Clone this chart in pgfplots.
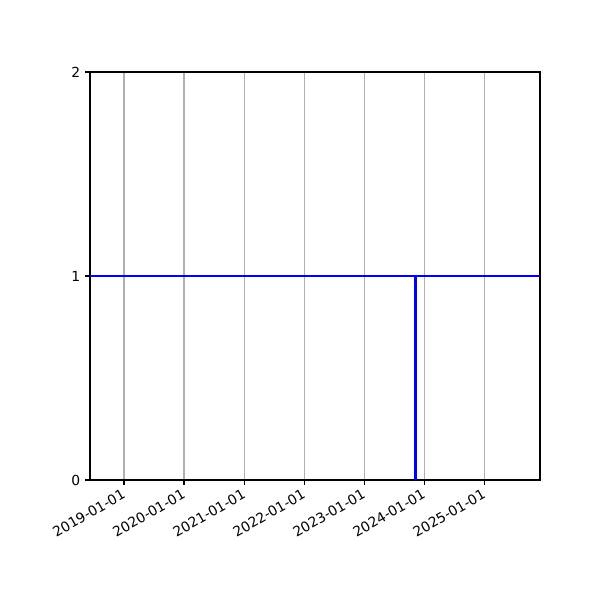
\documentclass[border=0pt]{standalone}
\usepackage{pgfplots}
\pgfplotsset{compat=1.18}
\usepackage{fontspec}
\setmainfont{DejaVu Sans}
\definecolor{gridgray}{HTML}{B0B0B0}
% x in days since 2019-01-01
\begin{document}
\fontsize{10.4}{12.5}\selectfont
\begin{tikzpicture}
\useasboundingbox (-67.5pt,-90pt) rectangle (382.5pt,360pt);
\begin{axis}[
  at={(0,0)}, anchor=south west,
  scale only axis, width=337.5pt, height=306pt,
  xmin=-207, xmax=2531, ymin=0, ymax=2,
  xtick={0,365,731,1096,1461,1826,2192},
  xticklabels={2019-01-01,2020-01-01,2021-01-01,2022-01-01,2023-01-01,2024-01-01,2025-01-01},
  xticklabel style={rotate=30, anchor=north east, inner sep=1pt, xshift=-2pt},
  ytick={0,1,2},
  /pgf/number format/assume math mode=true,
  tick align=outside, major tick length=3.65pt,
  tick style={black, line width=0.83pt},
  xtick pos=bottom, ytick pos=left,
  axis line style={line width=0.83pt},
  xmajorgrids, major grid style={gridgray, line width=0.83pt},
  clip=true,
]
\addplot[blue, line width=2.1pt] coordinates {(-207,1) (2531,1)};
\addplot[blue, line width=2.1pt] coordinates {(1774,0) (1774,1)};
\end{axis}
\end{tikzpicture}
\end{document}
